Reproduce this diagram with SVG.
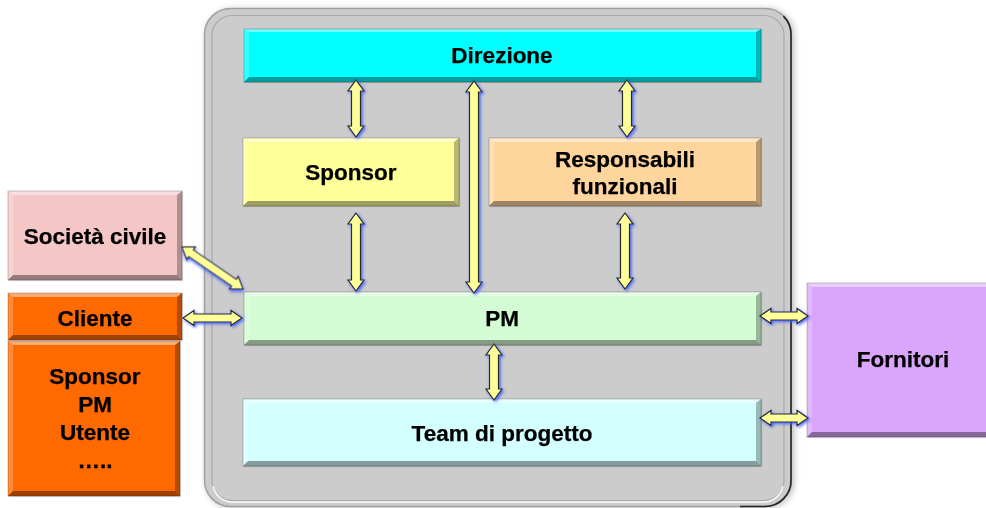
<svg xmlns="http://www.w3.org/2000/svg" width="986" height="508" viewBox="0 0 986 508">
  <defs>
    <filter id="glow" x="-50%" y="-20%" width="200%" height="140%">
      <feDropShadow dx="1.5" dy="1.5" stdDeviation="1.4" flood-color="#3b5cff" flood-opacity="0.9"/>
    </filter>
    <filter id="soft" x="-5%" y="-5%" width="110%" height="110%">
      <feDropShadow dx="2" dy="1" stdDeviation="3" flood-color="#000" flood-opacity="0.25"/>
    </filter>
    <filter id="boxsh" x="-5%" y="-10%" width="110%" height="125%">
      <feDropShadow dx="0.5" dy="0.5" stdDeviation="0.6" flood-color="#000" flood-opacity="0.35"/>
    </filter>
  </defs>
  <style>
    .lbl { font-family: "Liberation Sans", Arial, sans-serif; font-weight: bold; font-size: 22.5px; fill: #000; text-anchor: middle; stroke: #000; stroke-width: 0.25; }
    .hl { fill: #ffffff; fill-opacity: 0.45; }
    .hl2 { fill: #ffffff; fill-opacity: 0.22; }
    .sh { fill: #000000; fill-opacity: 0.28; }
    .sh2 { fill: #000000; fill-opacity: 0.38; }
    .edge { fill: none; stroke: #000; stroke-opacity: 0.2; stroke-width: 1; }
    .arr { fill: #ffff99; stroke: #2a2a2a; stroke-width: 1.2; stroke-linejoin: miter; filter: url(#glow); }
  </style>

  <rect width="986" height="508" fill="#ffffff"/>

  <!-- organisation frame -->
  <g id="frame">
    <rect x="204.5" y="8.5" width="587" height="498" rx="26" fill="#cccccc" stroke="#a0a0a0" stroke-width="1.5" filter="url(#soft)"/>
    <path d="M 783.4 16.1 A 26 26 0 0 1 791 34.5 L 791 480.5 A 26 26 0 0 1 765 506.5 L 740 506.5" fill="none" stroke="#222" stroke-width="1.6"/>
    <rect x="212" y="15.5" width="572" height="485" rx="20" fill="none" stroke="#a8a8a8" stroke-width="1.2"/>
    <path d="M 213 486 A 20 20 0 0 0 232 502 L 764 502 A 20 20 0 0 0 783 486" fill="none" stroke="#ffffff" stroke-width="1.5" stroke-opacity="0.9"/>
  </g>

  <!-- Direzione -->
  <g id="direzione" filter="url(#boxsh)">
    <rect x="244" y="29" width="517" height="53" fill="#00ffff"/>
    <polygon class="hl" points="244,29 761,29 756,32 249,32"/>
    <polygon class="hl2" points="244,29 249,32 249,77 244,82"/>
    <polygon class="sh" points="761,29 761,82 756,77 756,32"/>
    <polygon class="sh2" points="244,82 249,77 756,77 761,82"/>
    <rect class="edge" x="244" y="29" width="517" height="53"/>
    <text class="lbl" x="502" y="63">Direzione</text>
  </g>

  <!-- Sponsor -->
  <g id="sponsor" filter="url(#boxsh)">
    <rect x="243" y="138" width="216" height="68" fill="#ffff99"/>
    <polygon class="hl" points="243,138 459,138 454,142 248,142"/>
    <polygon class="hl2" points="243,138 248,142 248,201 243,206"/>
    <polygon class="sh" points="459,138 459,206 454,201 454,142"/>
    <polygon class="sh2" points="243,206 248,201 454,201 459,206"/>
    <rect class="edge" x="243" y="138" width="216" height="68"/>
    <text class="lbl" x="351" y="180">Sponsor</text>
  </g>

  <!-- Responsabili funzionali -->
  <g id="responsabili" filter="url(#boxsh)">
    <rect x="489" y="138" width="272" height="68" fill="#ffd59e"/>
    <polygon class="hl" points="489,138 761,138 756,142 494,142"/>
    <polygon class="hl2" points="489,138 494,142 494,201 489,206"/>
    <polygon class="sh" points="761,138 761,206 756,201 756,142"/>
    <polygon class="sh2" points="489,206 494,201 756,201 761,206"/>
    <rect class="edge" x="489" y="138" width="272" height="68"/>
    <text class="lbl" x="625" y="167">Responsabili</text>
    <text class="lbl" x="625" y="194">funzionali</text>
  </g>

  <!-- PM -->
  <g id="pm" filter="url(#boxsh)">
    <rect x="244" y="292" width="517" height="53" fill="#d4fcd4"/>
    <polygon class="hl" points="244,292 761,292 756,296 249,296"/>
    <polygon class="hl2" points="244,292 249,296 249,340 244,345"/>
    <polygon class="sh" points="761,292 761,345 756,340 756,296"/>
    <polygon class="sh2" points="244,345 249,340 756,340 761,345"/>
    <rect class="edge" x="244" y="292" width="517" height="53"/>
    <text class="lbl" x="502" y="326">PM</text>
  </g>

  <!-- Team di progetto -->
  <g id="team" filter="url(#boxsh)">
    <rect x="243" y="399" width="518" height="67" fill="#d4ffff"/>
    <polygon class="hl" points="243,399 761,399 756,403 248,403"/>
    <polygon class="hl2" points="243,399 248,403 248,461 243,466"/>
    <polygon class="sh" points="761,399 761,466 756,461 756,403"/>
    <polygon class="sh2" points="243,466 248,461 756,461 761,466"/>
    <rect class="edge" x="243" y="399" width="518" height="67"/>
    <text class="lbl" x="502" y="441">Team di progetto</text>
  </g>

  <!-- Società civile -->
  <g id="societa" filter="url(#boxsh)">
    <rect x="8" y="191" width="174" height="89" fill="#f5c6c6"/>
    <polygon class="hl" points="8,191 182,191 177,195 13,195"/>
    <polygon class="hl2" points="8,191 13,195 13,275 8,280"/>
    <polygon class="sh" points="182,191 182,280 177,275 177,195"/>
    <polygon class="sh2" points="8,280 13,275 177,275 182,280"/>
    <rect class="edge" x="8" y="191" width="174" height="89"/>
    <text class="lbl" x="95" y="244">Società civile</text>
  </g>

  <!-- Cliente -->
  <g id="cliente" filter="url(#boxsh)">
    <rect x="8" y="293" width="174" height="47" fill="#ff6a00"/>
    <polygon class="hl" points="8,293 182,293 177,297 13,297"/>
    <polygon class="hl2" points="8,293 13,297 13,335 8,340"/>
    <polygon class="sh" points="182,293 182,340 177,335 177,297"/>
    <polygon class="sh2" points="8,340 13,335 177,335 182,340"/>
    <rect class="edge" x="8" y="293" width="174" height="47"/>
    <text class="lbl" x="95" y="326">Cliente</text>
  </g>

  <!-- Cliente: ruoli -->
  <g id="ruoli" filter="url(#boxsh)">
    <rect x="8" y="341" width="172" height="155" fill="#ff6a00"/>
    <polygon class="hl" points="8,341 180,341 175,345 13,345"/>
    <polygon class="hl2" points="8,341 13,345 13,491 8,496"/>
    <polygon class="sh" points="180,341 180,496 175,491 175,345"/>
    <polygon class="sh2" points="8,496 13,491 175,491 180,496"/>
    <rect class="edge" x="8" y="341" width="172" height="155"/>
    <text class="lbl" x="95" y="384">Sponsor</text>
    <text class="lbl" x="95" y="412">PM</text>
    <text class="lbl" x="95" y="440">Utente</text>
    <text class="lbl" x="95" y="468">…..</text>
  </g>

  <!-- Fornitori -->
  <g id="fornitori" filter="url(#boxsh)">
    <rect x="807" y="283" width="185" height="154" fill="#d9a6fb"/>
    <polygon class="hl" points="807,283 992,283 987,287 812,287"/>
    <polygon class="hl2" points="807,283 812,287 812,432 807,437"/>
    <polygon class="sh2" points="807,437 812,432 987,432 992,437"/>
    <rect class="edge" x="807" y="283" width="185" height="154"/>
    <text class="lbl" x="903" y="367">Fornitori</text>
  </g>

  <!-- connectors -->
  <g id="connectors">
    <!-- Direzione - Sponsor -->
    <path class="arr" d="M356,80 L364,91 L360.5,91 L360.5,126 L364,126 L356,137 L348,126 L351.5,126 L351.5,91 L348,91 Z"/>
    <!-- Direzione - PM -->
    <path class="arr" d="M474,81 L482,92 L478.5,92 L478.5,282 L482,282 L474,293 L466,282 L469.5,282 L469.5,92 L466,92 Z"/>
    <!-- Direzione - Responsabili -->
    <path class="arr" d="M627,80 L635,91 L631.5,91 L631.5,126 L635,126 L627,137 L619,126 L622.5,126 L622.5,91 L619,91 Z"/>
    <!-- Sponsor - PM -->
    <path class="arr" d="M356,213 L364,224 L360.5,224 L360.5,280 L364,280 L356,291 L348,280 L351.5,280 L351.5,224 L348,224 Z"/>
    <!-- Responsabili - PM -->
    <path class="arr" d="M625,213 L633,224 L629.5,224 L629.5,278 L633,278 L625,289 L617,278 L620.5,278 L620.5,224 L617,224 Z"/>
    <!-- PM - Team -->
    <path class="arr" d="M494,344 L502,355 L498.5,355 L498.5,389 L502,389 L494,400 L486,389 L489.5,389 L489.5,355 L486,355 Z"/>
    <!-- Cliente - PM -->
    <path class="arr" d="M183,318 L194,310.5 L194,314 L231,314 L231,310.5 L242,318 L231,325.5 L231,322 L194,322 L194,325.5 Z"/>
    <!-- PM - Fornitori -->
    <path class="arr" d="M760,316 L771,308.5 L771,312 L797,312 L797,308.5 L808,316 L797,323.5 L797,320 L771,320 L771,323.5 Z"/>
    <!-- Team - Fornitori -->
    <path class="arr" d="M760,418 L771,410.5 L771,414 L797,414 L797,410.5 L808,418 L797,425.5 L797,422 L771,422 L771,425.5 Z"/>
    <!-- Società civile - PM -->
    <path class="arr" transform="translate(182,247) rotate(34.5)" d="M0,0 L11,-7.5 L11,-4 L63,-4 L63,-7.5 L74,0 L63,7.5 L63,4 L11,4 L11,7.5 Z"/>
  </g>
</svg>
